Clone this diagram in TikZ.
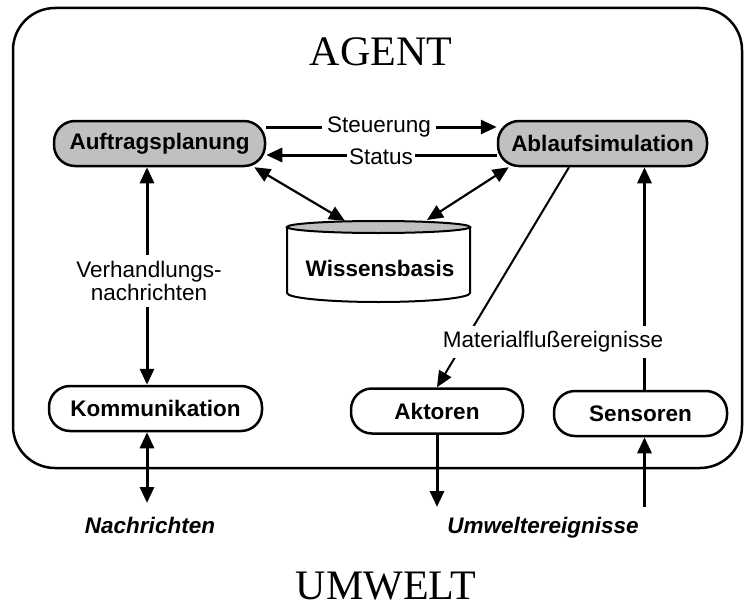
\documentclass[tikz,border=0pt]{standalone}
\usepackage{fontspec}
\setmainfont{Liberation Sans}
\newfontfamily\titlefont{Liberation Serif}
\usetikzlibrary{arrows.meta}
\definecolor{boxgray}{HTML}{C0C0C0}
\begin{document}
\begin{tikzpicture}[x=1pt,y=1pt,
  unit/.style={draw,line width=2.5pt,rounded corners=21pt,inner sep=0pt,
    minimum height=45pt,font=\fontsize{22.5}{27}\selectfont\bfseries},
  core/.style={unit,fill=boxgray},
  tip/.tip={Triangle[length=16pt,width=14pt]},
  flow/.style={line width=3pt,-tip},
  both/.style={line width=3pt,tip-tip},
  diag/.style={line width=2.2pt,tip-tip},
  thin/.style={line width=2pt,-tip},
  lbl/.style={fill=white,inner xsep=5pt,inner ysep=6pt,
    font=\fontsize{22.5}{23}\selectfont},
  env/.style={font=\fontsize{22.5}{27}\selectfont\bfseries\itshape},
  title/.style={inner sep=0pt,font=\titlefont\fontsize{42}{48}\selectfont}]

\useasboundingbox (0,0) rectangle (744,-610);

% agent frame
\draw[line width=2.5pt,rounded corners=42pt] (13,-8) rectangle (742,-468);
\node[title] (agent) at (381,-52) {AGENT};
\node[title] (umwelt) at (386,-586) {UMWELT};

% knowledge base cylinder
\fill[white] (287,-227) -- (287,-293)
  arc[start angle=180,end angle=360,x radius=91.5,y radius=9] -- (470,-227) -- cycle;
\draw[line width=2pt] (287,-227) -- (287,-293)
  arc[start angle=180,end angle=360,x radius=91.5,y radius=9] -- (470,-227);
\draw[line width=2pt,fill=boxgray] (378.5,-227) ellipse[x radius=91.5,y radius=6];
\node[font=\fontsize{22.5}{27}\selectfont\bfseries] (wb) at (380,-268) {Wissensbasis};
\coordinate (wbl) at (345,-221);
\coordinate (wbr) at (427,-220);

% components
\node[core,minimum width=211pt] (auf) at (159.5,-143.5) {Auftragsplanung};
\node[core,minimum width=209pt] (abl) at (602.5,-143.5) {Ablaufsimulation};
\node[unit,minimum width=213pt] (kom) at (155.5,-408.5) {Kommunikation};
\node[unit,minimum width=172pt] (akt) at (437,-411) {Aktoren};
\node[unit,minimum width=173pt] (sen) at (640.5,-413.5) {Sensoren};

% outside end points
\coordinate (vx) at (147,0);
\coordinate (nend) at (147,-503);
\coordinate (aend) at (437,-507);
\coordinate (send) at (644.5,-507);

% internal connections
\draw[flow] ([yshift=16.5pt]auf.east) -- ([yshift=16.5pt]abl.west);
\draw[flow] ([yshift=-11.5pt]abl.west) -- ([yshift=-11.5pt]auf.east);
\draw[diag] ([xshift=-12pt]auf.south east) -- (wbl);
\draw[diag] ([xshift=12pt]abl.south west) -- (wbr);
\draw[both] (auf.south -| vx) -- (kom.north -| vx);
\draw[thin] ([xshift=-33.5pt]abl.south) -- (akt.north);
\draw[flow] ([xshift=4pt]sen.north) -- ([xshift=4pt]sen.north |- abl.south);

% connections to the environment
\draw[both] (kom.south -| vx) -- (nend);
\draw[flow] (akt.south) -- (aend);
\draw[flow] (send) -- ([xshift=4pt]sen.south);

% labels on the connections
\node[lbl] (steu) at (379,-127) {Steuerung};
\node[lbl,inner ysep=2pt,inner xsep=2pt] (stat) at (381,-157) {Status};
\node[lbl,align=center] (verh) at (149,-281) {Verhandlungs-\\nachrichten};
\node[lbl] (mat) at (553,-342) {Materialflußereignisse};

% environment labels
\node[env] (nach) at (150,-525) {Nachrichten};
\node[env] (umw) at (543,-528) {Umweltereignisse};
\end{tikzpicture}
\end{document}
